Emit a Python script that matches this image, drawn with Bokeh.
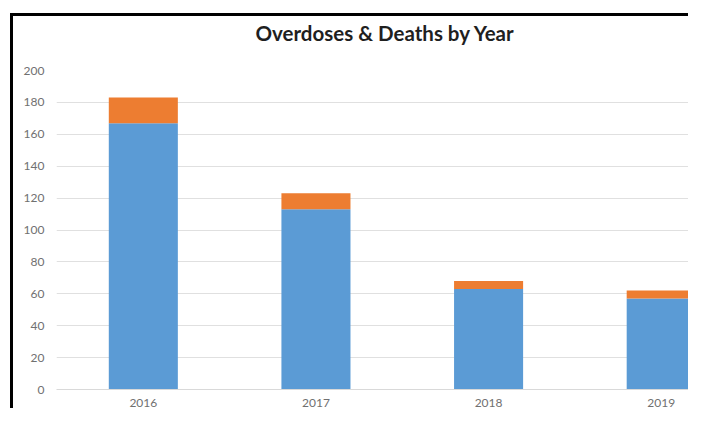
from bokeh.plotting import figure
from bokeh.models import Range1d, FixedTicker, ColumnDataSource, Title
from bokeh.embed import file_html
from bokeh.resources import INLINE

title_text = "Overdoses & Deaths by Year"
years = [2016, 2017, 2018, 2019]
overdoses = [167, 113, 63, 57]
deaths = [16, 10, 5, 5]
y_ticks = [0, 20, 40, 60, 80, 100, 120, 140, 160, 180, 200]

src = ColumnDataSource(dict(year=years, overdoses=overdoses, deaths=deaths))

px_per_year = 171.0

p = figure(width=678, height=395, output_backend="svg", toolbar_location=None,
           x_range=Range1d(2016 - 86 / px_per_year, 2016 + 543 / px_per_year),
           y_range=Range1d(0, 200),
           min_border_left=43, min_border_right=0, min_border_top=54, min_border_bottom=22)
p.styles = {"border-left": "3px solid black", "border-top": "3px solid black",
            "margin-left": "10px", "margin-top": "13px"}

p.vbar_stack(["overdoses", "deaths"], x="year", width=0.4, source=src,
             color=["#5B9BD5", "#ED7D31"], line_color=None)

p.title.text = title_text
p.title.text_font = "Lato"
p.title.text_font_size = "20.5px"
p.title.text_font_style = "bold"
p.title.text_color = "#1f1f1f"
p.title.align = "left"
p.title.offset = 199
p.title.vertical_align = "top"
p.title.standoff = 0

# spacer between the chart title and the plot area
p.add_layout(Title(text="\u00a0", text_font_size="1px", standoff=21), "above")

p.outline_line_color = None
p.xgrid.grid_line_color = None
p.ygrid.grid_line_color = "#e0e0e0"
p.ygrid.ticker = FixedTicker(ticks=y_ticks)

p.yaxis.ticker = FixedTicker(ticks=y_ticks)
p.xaxis.ticker = FixedTicker(ticks=years)
for ax in (p.xaxis, p.yaxis):
    ax.major_tick_line_color = None
    ax.minor_tick_line_color = None
    ax.major_label_text_font = "Lato"
    ax.major_label_text_font_size = "12px"
    ax.major_label_text_color = "#707070"
p.yaxis.axis_line_color = None
p.xaxis.axis_line_color = "#d9d9d9"
p.yaxis.major_label_standoff = 6
p.xaxis.major_label_standoff = 3

open("out.html", "w").write(file_html(p, INLINE))
